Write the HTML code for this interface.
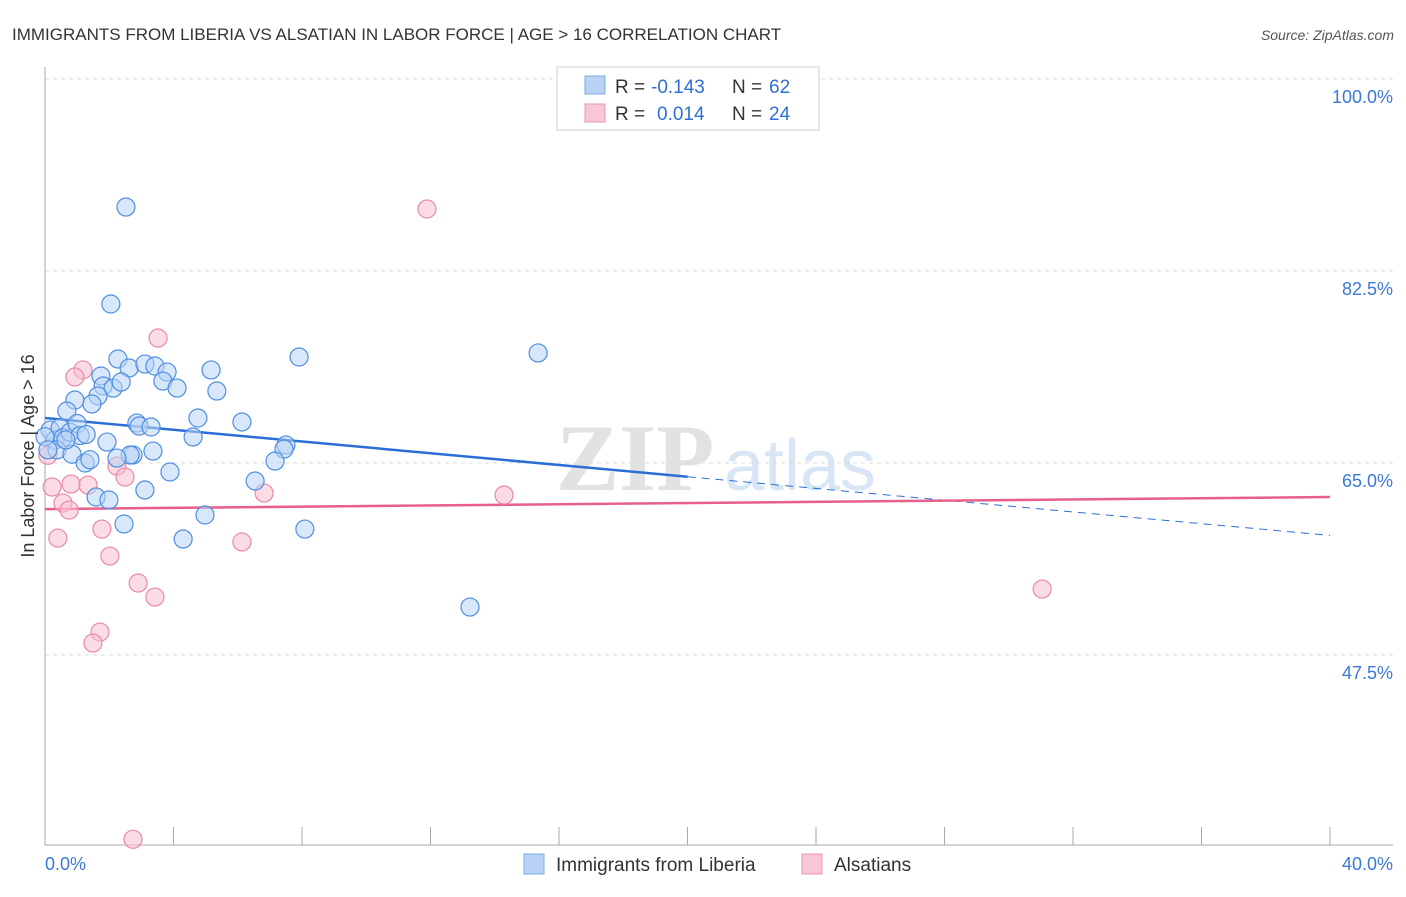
<!DOCTYPE html>
<html><head><meta charset="utf-8"><style>
body{margin:0;background:#fff;font-family:"Liberation Sans",sans-serif}
svg text{font-family:"Liberation Sans",sans-serif}
</style></head><body>
<svg id="c" width="1406" height="892" xmlns="http://www.w3.org/2000/svg">
<text x="12" y="40" font-size="17" fill="#333">IMMIGRANTS FROM LIBERIA VS ALSATIAN IN LABOR FORCE | AGE &gt; 16 CORRELATION CHART</text>
<text x="1394" y="40" font-size="14" fill="#555" font-style="italic" text-anchor="end">Source: ZipAtlas.com</text>
<g>
<text x="635" y="490" font-size="95" fill="#e2e2e2" style="font-family:'Liberation Serif',serif" text-anchor="middle" font-weight="bold">ZIP</text>
<text x="800" y="490" font-size="72" fill="#d8e5f5" text-anchor="middle">atlas</text></g>
<g id="grid"></g><g id="axes"></g><g id="lines"></g><g id="pts"></g>
<g>
<rect x="557" y="67" width="262" height="63" fill="#fff" stroke="#ccc"/>
<rect x="585" y="76" width="20" height="18" fill="#b8d3f5" stroke="#7ea8e0"/>
<rect x="585" y="104" width="20" height="18" fill="#f8c6d4" stroke="#e99ab2"/>
<text x="615" y="93" font-size="19" fill="#333">R =</text>
<text x="651" y="93" font-size="19" fill="#2f6fd6">-0.143</text>
<text x="732" y="93" font-size="19" fill="#333">N =</text>
<text x="769" y="93" font-size="19" fill="#2f6fd6">62</text>
<text x="615" y="120" font-size="19" fill="#333">R =</text>
<text x="657" y="120" font-size="19" fill="#2f6fd6">0.014</text>
<text x="732" y="120" font-size="19" fill="#333">N =</text>
<text x="769" y="120" font-size="19" fill="#2f6fd6">24</text>
</g>
<g>
<rect x="524" y="854" width="20" height="20" fill="#b8d3f5" stroke="#7ea8e0"/>
<text x="556" y="871" font-size="19" fill="#333">Immigrants from Liberia</text>
<rect x="802" y="854" width="20" height="20" fill="#f8c6d4" stroke="#e99ab2"/>
<text x="834" y="871" font-size="19" fill="#333">Alsatians</text>
</g>
<text transform="translate(34,456) rotate(-90)" font-size="18" fill="#333" text-anchor="middle">In Labor Force | Age &gt; 16</text>
</svg>
<script>
const yTicks=[100,82.5,65,47.5];
const yTickLabels=["100.0%","82.5%","65.0%","47.5%"];
const xLabels=["0.0%","40.0%"];
const blueX=[2.52,2.05,2.27,2.62,3.11,3.42,3.80,3.67,4.11,5.17,5.35,7.91,15.35,1.74,1.81,2.12,2.37,1.65,1.46,0.93,0.68,4.76,6.13,2.86,2.93,3.30,4.61,1.93,3.36,2.74,2.65,2.24,3.89,7.50,7.44,7.16,6.54,3.11,1.59,1.99,4.98,2.46,8.09,4.30,13.23,0.16,0.31,0.47,0.56,0.78,1.0,1.09,1.28,0.37,0.84,1.25,1.40,0,0.09,0.65];
const blueY=[88.33,79.49,74.48,73.66,74.02,73.84,73.29,72.47,71.83,73.48,71.56,74.66,75.03,72.93,72.02,71.83,72.38,71.11,70.38,70.74,69.74,69.10,68.74,68.64,68.37,68.28,67.37,66.91,66.09,65.73,65.73,65.45,64.18,66.64,66.27,65.18,63.36,62.54,61.90,61.63,60.26,59.44,58.98,58.07,51.87,68.0,67.1,68.2,67.3,67.8,68.6,67.5,67.6,66.2,65.8,65.0,65.3,67.4,66.2,67.1];
const pinkX=[11.89,3.52,1.18,0.93,2.24,2.49,6.82,14.29,0.22,0.81,1.34,0.56,0.75,1.77,0.40,6.13,2.02,2.90,3.42,1.71,1.49,2.74,31.04,0.09];
const pinkY=[88.15,76.39,73.48,72.84,64.72,63.72,62.26,62.08,62.81,63.08,62.99,61.35,60.71,58.98,58.16,57.80,56.52,54.06,52.78,49.59,48.59,30.7,53.51,65.7];
const blueTrend=[69.1,58.4], pinkTrend=[60.8,61.9];
const X=v=>45+v/40*1285, Y=v=>79+(100-v)/17.5*192;
const NS="http://www.w3.org/2000/svg";
function mk(p,t,a){const e=document.createElementNS(NS,t);for(const k in a)e.setAttribute(k,a[k]);document.getElementById(p).appendChild(e);return e;}
yTicks.forEach((t,i)=>{
 const g=mk('grid','line',{x1:45,x2:1393,y1:Y(t),y2:Y(t),stroke:'#ddd','stroke-dasharray':'4,4'});
 
 
 const l=mk('grid','text',{x:1393,y:Y(t)+24,'font-size':18,fill:'#3b78d8','text-anchor':'end'});
 l.textContent=yTickLabels[i];
 
 
});
const ax=mk('axes','path',{d:'M45 67V845H1393',stroke:'#aaa',fill:'none'});


for(let i=0;i<=10;i++){
 const t=mk('axes','line',{x1:X(i*4),x2:X(i*4),y1:827,y2:845,stroke:'#aaa'});
 
 
}
[[0,'start',45],[40,'end',1393]].forEach((d,i)=>{
 const l=mk('axes','text',{x:d[2],y:870,'font-size':18,fill:'#3b78d8','text-anchor':d[1]});
 l.textContent=xLabels[i];
 
 
});
function pts(xs,ys,f,s,n){xs.forEach((x,i)=>{
 const c=mk('pts','circle',{cx:X(x),cy:Y(ys[i]),r:9,fill:f,'fill-opacity':0.55,stroke:s,'stroke-width':1.2});
 
 
});}
pts(pinkX,pinkY,'#f8c0d0','#e88aa8','alsatian-point');
pts(blueX,blueY,'#b8d3f5','#4f8ee0','liberia-point');
const ym=blueTrend[0]+(blueTrend[1]-blueTrend[0])*0.5;
let e=mk('lines','line',{x1:X(0),y1:Y(blueTrend[0]),x2:X(20),y2:Y(ym),stroke:'#2a6fd6','stroke-width':2.5});


e=mk('lines','line',{x1:X(20),y1:Y(ym),x2:X(40),y2:Y(blueTrend[1]),stroke:'#2a6fd6','stroke-width':1,'stroke-dasharray':'8,6'});


e=mk('lines','line',{x1:X(0),y1:Y(pinkTrend[0]),x2:X(40),y2:Y(pinkTrend[1]),stroke:'#e8608a','stroke-width':2.5});


</script>
</body></html>
